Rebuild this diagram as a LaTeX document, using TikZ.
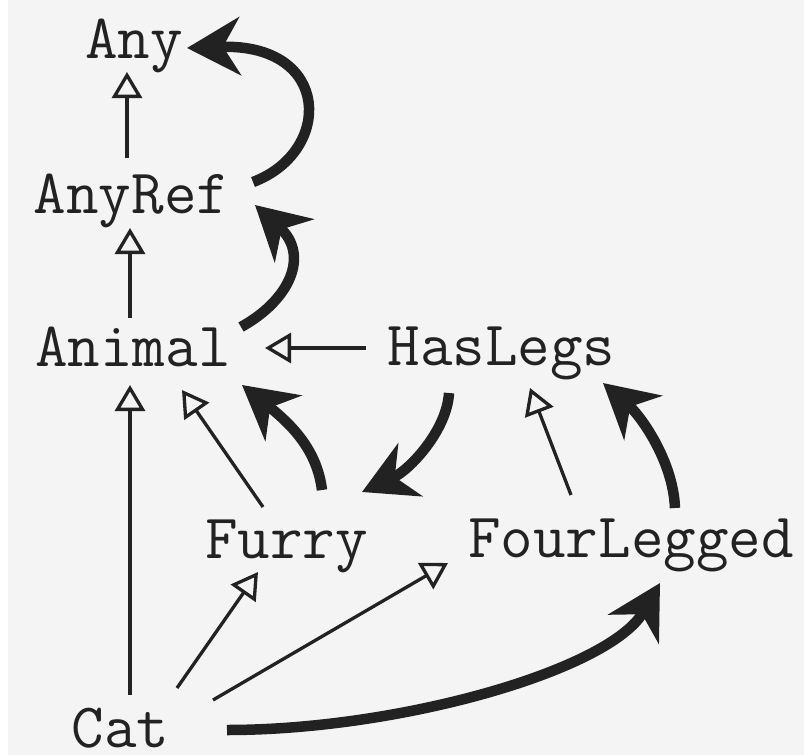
\documentclass[tikz,border=0pt]{standalone}
\usetikzlibrary{arrows.meta,calc}
\definecolor{bggray}{HTML}{F4F4F4}
\definecolor{ink}{HTML}{222222}

\tikzstyle{every node}=[anchor=base, inner sep=0pt, text=ink, font={\fontsize{63.2pt}{70pt}\selectfont\ttfamily}]
\tikzstyle{extends}=[line width=3.3pt, draw=ink, -{Triangle[open, length=26pt, width=30pt]}]
\tikzstyle{linear}=[line width=10.5pt, draw=ink, -{Stealth[length=53pt, width=58pt, inset=17pt]}]

\begin{document}
\begin{tikzpicture}[x=1pt, y=-1pt]
    \useasboundingbox (0,0) rectangle (804,755);
    \fill[white] (0,0) rectangle (8,755);
    \fill[bggray] (8,0) rectangle (804,755);

    \node (any) at (134,58) {Any};
    \node (anyref) at (131.5,213) {AnyRef};
    \node (animal) at (133,366) {Animal};
    \node (haslegs) at (501.5,365) {HasLegs};
    \node (furry) at (286.5,558) {Furry};
    \node (fourlegged) at (631,557) {FourLegged};
    \node (cat) at (120.5,747) {Cat};

    % class hierarchy
    \draw[extends] ($(anyref.base)+(-4.5,-55)$) -- ($(any.base)+(-7,14)$);
    \draw[extends] ($(animal.base)+(-3,-48)$) -- ($(anyref.base)+(-1.5,15)$);
    \draw[extends] ($(haslegs.base)+(-135.5,-17)$) -- ($(animal.base)+(132,-18)$);
    \draw[extends] ($(cat.base)+(9.5,-52)$) -- ($(animal.base)+(-3,19)$);
    \draw[extends] ($(furry.base)+(-23.5,-51)$) -- ($(animal.base)+(49,24)$);
    \draw[extends] ($(cat.base)+(56.5,-59)$) -- ($(furry.base)+(-28.5,14)$);
    \draw[extends] ($(cat.base)+(92.5,-47)$) -- ($(fourlegged.base)+(-183,6)$);
    \draw[extends] ($(fourlegged.base)+(-60,-62)$) -- ($(haslegs.base)+(28.5,23)$);

    % linearization order
    \draw[linear] ($(cat.base)+(106.5,-17)$) .. controls +(173,0) and +(-50,87) .. ($(fourlegged.base)+(29,26)$);
    \draw[linear] ($(fourlegged.base)+(44,-49)$) .. controls +(-2,-48) and +(37,32) .. ($(haslegs.base)+(101.5,18)$);
    \draw[linear] ($(haslegs.base)+(-52.5,28)$) .. controls +(-2,37) and +(48,-22) .. ($(furry.base)+(75.5,-66)$);
    \draw[linear] ($(furry.base)+(35.5,-68)$) .. controls +(-5,-40) and +(50,40) .. ($(animal.base)+(109,19)$);
    \draw[linear] ($(animal.base)+(108,-39)$) .. controls +(49,-27) and +(55,50) .. ($(anyref.base)+(123.5,-8)$);
    \draw[linear] ($(anyref.base)+(121.5,-31)$) .. controls +(80,-30) and +(145,-5) .. ($(any.base)+(53,-10)$);
\end{tikzpicture}
\end{document}
